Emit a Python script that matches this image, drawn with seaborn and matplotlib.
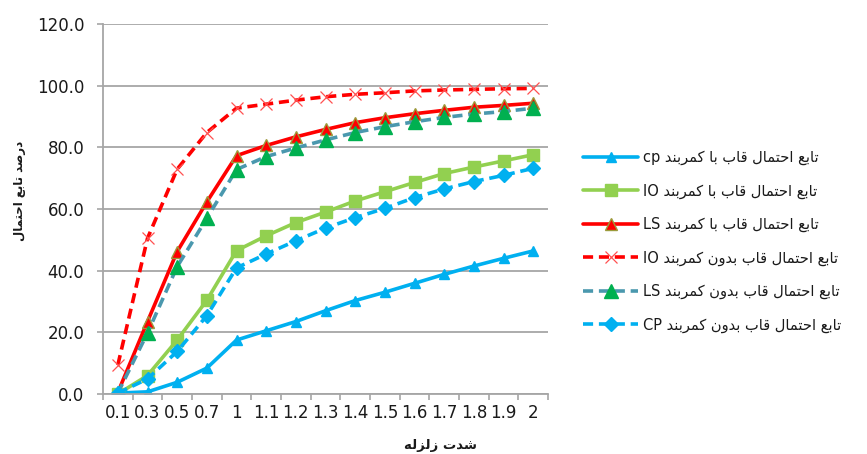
import numpy as np
import pandas as pd
import matplotlib
matplotlib.use("Agg")
import matplotlib.pyplot as plt
import seaborn as sns

# Earthquake intensity categories
intensity = ["0.1", "0.3", "0.5", "0.7", "1", "1.1", "1.2", "1.3", "1.4",
             "1.5", "1.6", "1.7", "1.8", "1.9", "2"]

# Fragility percentages, frames with bracing
cp_with = [0.3, 0.7, 3.8, 8.4, 17.5, 20.5, 23.5, 27.0, 30.3, 33.0, 35.9, 38.8, 41.5, 44.0, 46.4]
io_with = [0.0, 6.0, 17.5, 30.4, 46.5, 51.3, 55.6, 59.0, 62.6, 65.6, 68.6, 71.5, 73.6, 75.6, 77.6]
ls_with = [0.5, 23.5, 46.2, 62.3, 77.3, 80.6, 83.4, 85.8, 88.0, 89.6, 90.9, 92.0, 93.0, 93.6, 94.3]

# Fragility percentages, frames without bracing
io_without = [9.4, 50.5, 72.9, 84.8, 92.7, 94.0, 95.3, 96.4, 97.2, 97.7, 98.3, 98.6, 98.8, 99.0, 99.1]
ls_without = [0.3, 19.8, 41.3, 57.0, 72.8, 77.0, 79.8, 82.4, 84.8, 86.7, 88.3, 89.7, 90.8, 91.6, 92.7]
cp_without = [0.3, 4.9, 13.8, 25.4, 40.9, 45.4, 49.7, 53.8, 57.2, 60.2, 63.7, 66.5, 68.9, 70.9, 73.2]

# --- minimal Arabic-script shaping (matplotlib draws glyphs left to right, unjoined) ---
FORMS = {
    "ا": (0xFE8D, 0xFE8E, None, None),
    "ب": (0xFE8F, 0xFE90, 0xFE91, 0xFE92),
    "ت": (0xFE95, 0xFE96, 0xFE97, 0xFE98),
    "ح": (0xFEA1, 0xFEA2, 0xFEA3, 0xFEA4),
    "د": (0xFEA9, 0xFEAA, None, None),
    "ر": (0xFEAD, 0xFEAE, None, None),
    "ز": (0xFEAF, 0xFEB0, None, None),
    "ش": (0xFEB5, 0xFEB6, 0xFEB7, 0xFEB8),
    "ص": (0xFEB9, 0xFEBA, 0xFEBB, 0xFEBC),
    "ع": (0xFEC9, 0xFECA, 0xFECB, 0xFECC),
    "ق": (0xFED5, 0xFED6, 0xFED7, 0xFED8),
    "ل": (0xFEDD, 0xFEDE, 0xFEDF, 0xFEE0),
    "م": (0xFEE1, 0xFEE2, 0xFEE3, 0xFEE4),
    "ن": (0xFEE5, 0xFEE6, 0xFEE7, 0xFEE8),
    "ه": (0xFEE9, 0xFEEA, 0xFEEB, 0xFEEC),
    "و": (0xFEED, 0xFEEE, None, None),
    "ک": (0xFB8E, 0xFB8F, 0xFB90, 0xFB91),
}


def rtl(text):
    out = []
    for i, ch in enumerate(text):
        if ch not in FORMS:
            out.append(ch)
            continue
        prev = text[i - 1] if i > 0 else None
        nxt = text[i + 1] if i + 1 < len(text) else None
        iso, fin, ini, med = FORMS[ch]
        join_prev = prev in FORMS and FORMS[prev][2] is not None
        join_next = nxt in FORMS and ini is not None
        if join_prev and join_next:
            code = med
        elif join_prev:
            code = fin
        elif join_next:
            code = ini
        else:
            code = iso
        out.append(chr(code))
    return "".join(out)[::-1]


with_belt = "تابع احتمال قاب با کمربند"
without_belt = "تابع احتمال قاب بدون کمربند"

series = [
    dict(vals=cp_with, label="cp " + rtl(with_belt), color="#00B0F0", ls="-",
         marker="^", ms=7, mfc="#00B0F0", mec="#00B0F0", mew=1.0),
    dict(vals=io_with, label="IO " + rtl(with_belt), color="#92D050", ls="-",
         marker="s", ms=8, mfc="#92D050", mec="#92D050", mew=1.0),
    dict(vals=ls_with, label="LS " + rtl(with_belt), color="#FF0000", ls="-",
         marker="^", ms=8.5, mfc="#FF0000", mec="#9B9B3B", mew=1.0),
    dict(vals=io_without, label="IO " + rtl(without_belt), color="#FF0000", ls=(0, (2.8, 1.6)),
         marker="x", ms=9, mfc="#FF5050", mec="#FF5050", mew=0.9),
    dict(vals=ls_without, label="LS " + rtl(without_belt), color="#4A98AE", ls=(0, (2.8, 1.6)),
         marker="^", ms=9.5, mfc="#00B050", mec="#00B050", mew=1.0),
    dict(vals=cp_without, label="CP " + rtl(without_belt), color="#00B0F0", ls=(0, (2.8, 1.6)),
         marker="D", ms=7, mfc="#00B0F0", mec="#00B0F0", mew=1.0),
]

sns.set_style("white")
plt.rcParams["font.family"] = ["DejaVu Sans"]

fig = plt.figure(figsize=(8.67, 4.54), dpi=100)
ax = fig.add_axes([103 / 867, 1 - 394 / 454, 445 / 867, 370 / 454])

pos = np.arange(len(intensity))
for s in series:
    df = pd.DataFrame({"x": pos, "y": s["vals"]})
    sns.lineplot(data=df, x="x", y="y", ax=ax, color=s["color"], linestyle=s["ls"],
                 linewidth=2.6, marker=s["marker"], markersize=s["ms"],
                 markerfacecolor=s["mfc"], markeredgecolor=s["mec"],
                 markeredgewidth=s["mew"], label=s["label"], legend=False)

grid_c = "#A6A6A6"
ax.set_xlim(-0.5, len(intensity) - 0.5)
ax.set_ylim(0, 120)
ax.set_yticks(np.arange(0, 121, 20))
ax.set_yticklabels([f"{v:.1f}" for v in np.arange(0, 121, 20)])
ax.set_xticks(pos)
ax.set_xticklabels(intensity)
ax.set_xticks(np.arange(-0.5, len(intensity), 1), minor=True)
ax.yaxis.grid(True, color=grid_c, linewidth=1.3)
ax.set_axisbelow(True)
for side in ("top", "right"):
    ax.spines[side].set_visible(False)
for side in ("left", "bottom"):
    ax.spines[side].set_color(grid_c)
    ax.spines[side].set_linewidth(1.3)

ax.tick_params(axis="y", which="major", direction="out", length=4.5, width=1.2,
               color=grid_c, pad=9, labelsize=12, labelcolor="#1a1a1a", left=True)
ax.tick_params(axis="x", which="major", length=0, pad=7, labelsize=12,
               labelcolor="#1a1a1a", bottom=True)
ax.tick_params(axis="x", which="minor", direction="out", length=4.5, width=1.2,
               color=grid_c, bottom=True)

ax.set_xlabel(rtl("شدت زلزله"), fontsize=9.5, fontweight="bold", color="#1a1a1a")
ax.xaxis.label.set_va("center")
ax.xaxis.set_label_coords((440 - 103) / 445, (394 - 445) / 370)
ax.set_ylabel(rtl("درصد تابع احتمال"), fontsize=8.5, fontweight="bold", color="#1a1a1a")
ax.yaxis.label.set_va("center")
ax.yaxis.set_label_coords((20 - 103) / 445, (394 - 191) / 370)

handles, labels = ax.get_legend_handles_labels()
fig.legend(handles, labels, loc="upper left", bbox_to_anchor=(583 / 867, 1 - 150 / 454),
           frameon=False, fontsize=10.5, handlelength=3.8, handletextpad=0.3,
           labelspacing=1.25, borderpad=0, borderaxespad=0, numpoints=1,
           labelcolor="#1a1a1a")

fig.savefig("out.png", dpi=100)
